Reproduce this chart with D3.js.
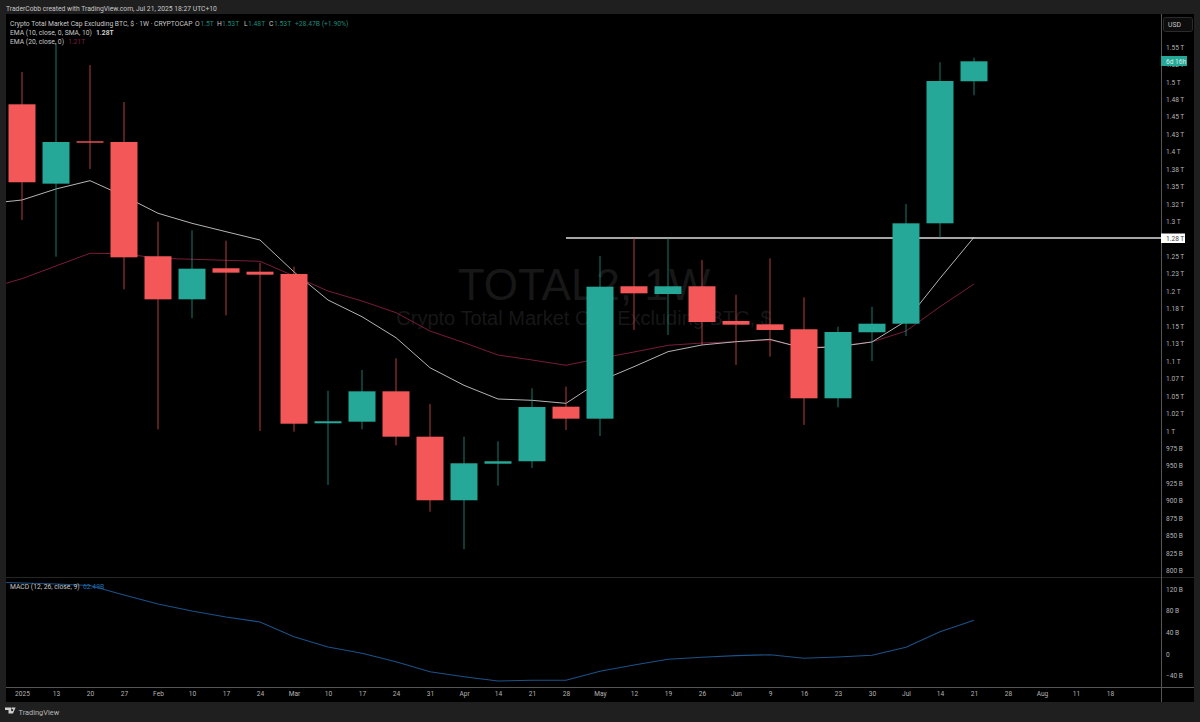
<!DOCTYPE html>
<html><head><meta charset="utf-8">
<script src="https://cdn.jsdelivr.net/npm/d3@7/dist/d3.min.js"></script>
<style>
html,body{margin:0;padding:0;background:#1f1f1f;overflow:hidden}
svg{display:block}
text{font-family:Roboto,"Open Sans",sans-serif}
.axis text{fill:#b4b4b4;font-size:6.6px}
</style></head><body><svg id="c" width="1200" height="722"></svg>
<script>
// Values in billions of USD, weekly candles
const openV  = [1467.9,1354.2,1414.9,1413.9,1250.2,1188.5,1233,1228.1,1224.8,1010.9,1013.2,1056.7,991.7,900.6,953,956.5,1034.7,1017.5,1207.2,1196.1,1207.2,1157.5,1152.7,1145.6,1046.7,1141.3,1153.6,1297.4,1500.9];
const highV  = [1514.2,1555.7,1524.2,1471.2,1299.7,1287.4,1272.5,1241,1235.3,1057.6,1087.3,1104,1038.5,991.7,985.1,1061,1063.3,1250.6,1276.4,1276.4,1244.9,1195.1,1247.3,1191.4,1149.3,1177.9,1325.1,1528.1,1534.7];
const lowV   = [1302.2,1249.6,1375.2,1202.9,1002.3,1161.3,1165.6,999.9,998.9,922.5,1002.3,979.4,884.2,830.4,921.5,946.9,1001.3,992.7,1144.6,1137.4,1123.1,1094.4,1106.3,1008.5,1033.8,1100.1,1136,1276.4,1480.8];
const closeV = [1356.2,1413.9,1412.9,1248.7,1188.5,1232.4,1226.7,1223.8,1010.3,1013.8,1056.7,991.7,900.6,953.6,956.5,1034.2,1017.5,1206.6,1197.1,1207.2,1156,1152.2,1144.6,1046.7,1141.7,1153.6,1297.4,1501.3,1529.5];
// Indicator series begin one week before the first visible candle
const ema10 = [1325.7,1330.8,1346.6,1358.5,1336.5,1311.8,1297.4,1285.4,1273.5,1227.7,1187.5,1163.6,1133.5,1090.5,1065.3,1045.7,1043.8,1039.5,1071.5,1092,1113.5,1123.1,1127.8,1131.2,1118.3,1120.6,1127.4,1157.5,1218.6,1277.4];
const ema20 = [1204,1218.1,1236.3,1254.5,1253.9,1247.3,1245.9,1244.4,1243,1221.9,1200.4,1186.1,1169.4,1143.1,1126.4,1108.7,1101.6,1094,1104,1113,1122.6,1125.9,1127.8,1130.2,1119.2,1121.6,1127.4,1143.1,1177.9,1210.5];
const macd  = [133.3,131.5,129.6,126.9,109.3,92.6,79.6,68.5,59.3,32,13,1.3,-14.3,-32.8,-42,-50,-48.7,-48.7,-32,-20.4,-9.8,-6.1,-3.1,-1.3,-8,-5.6,-2.4,12.4,41.3,62.49];
const timeLabels = ['2025','13','20','27','Feb','10','17','24','Mar','10','17','24','31','Apr','14','21','28','May','12','19','26','Jun','9','16','23','30','Jul','14','21','28','Aug','11','18'];
const priceTicks  = [800,825,850,875,900,925,950,975,1000,1025,1050,1075,1100,1125,1150,1175,1200,1225,1250,1300,1325,1350,1375,1400,1425,1450,1475,1500,1525,1550];
const priceLabels = ['800 B','825 B','850 B','875 B','900 B','925 B','950 B','975 B','1 T','1.02 T','1.05 T','1.07 T','1.1 T','1.13 T','1.15 T','1.18 T','1.2 T','1.23 T','1.25 T','1.3 T','1.32 T','1.35 T','1.38 T','1.4 T','1.43 T','1.45 T','1.48 T','1.5 T','1.52 T','1.55 T'];
const macdTicks  = [-40,0,40,80,120];
const macdLabels = ['−40 B','0','40 B','80 B','120 B'];
const levelValue = 1276.4, levelStartIndex = 16;

const UP='#25a898', DOWN='#f45757';
const svg=d3.select('#c');
const x=d3.scaleLinear().domain([0,28]).range([22,974]);
const y=d3.scaleLinear().domain([800,1550]).range([570.5,47]);
const ym=d3.scaleLinear().domain([0,40]).range([654,632.4]);

svg.append('rect').attr('width',1200).attr('height',722).attr('fill','#1f1f1f');
svg.append('rect').attr('x',6).attr('y',14).attr('width',1188).attr('height',688).attr('fill','#000');
const defs=svg.append('defs');
defs.append('clipPath').attr('id','main').append('rect').attr('x',6).attr('y',14).attr('width',1155).attr('height',563);
defs.append('clipPath').attr('id','sub').append('rect').attr('x',6).attr('y',578).attr('width',1155).attr('height',109);

// watermark
svg.append('text').attr('x',584).attr('y',300).attr('text-anchor','middle').attr('fill','#171717')
  .style('font-family','"Liberation Sans",sans-serif').style('font-size','44px').text('TOTAL2, 1W');
svg.append('text').attr('x',584).attr('y',325).attr('text-anchor','middle').attr('fill','#171717')
  .style('font-family','"Liberation Sans",sans-serif').style('font-size','20px').text('Crypto Total Market Cap Excluding BTC, $');

const main=svg.append('g').attr('clip-path','url(#main)');
const line=d3.line().x((d,i)=>x(i-1)).y(d=>y(d));
main.append('path').attr('d',line(ema20)).attr('fill','none').attr('stroke','#7a1c3a').attr('stroke-width',1);
main.append('path').attr('d',line(ema10)).attr('fill','none').attr('stroke','#b4b4b4').attr('stroke-width',1);
main.append('line').attr('x1',x(levelStartIndex)).attr('x2',1161).attr('y1',y(levelValue)).attr('y2',y(levelValue))
  .attr('stroke','#dedede').attr('stroke-width',1.6);

const idx=d3.range(closeV.length);
const col=i=>closeV[i]>=openV[i]?UP:DOWN;
main.selectAll('.wick').data(idx).join('line').attr('class','wick')
  .attr('x1',x).attr('x2',x).attr('y1',i=>y(highV[i])).attr('y2',i=>y(lowV[i]))
  .attr('stroke',col).attr('stroke-width',1).attr('stroke-opacity',.72);
main.selectAll('.body').data(idx).join('rect').attr('class','body')
  .attr('x',i=>x(i)-13.5).attr('width',27)
  .attr('y',i=>y(Math.max(openV[i],closeV[i])))
  .attr('height',i=>Math.abs(y(openV[i])-y(closeV[i])))
  .attr('fill',col);

svg.append('g').attr('clip-path','url(#sub)').append('path')
  .attr('d',d3.line().x((d,i)=>x(i-1)).y(d=>ym(d))(macd))
  .attr('fill','none').attr('stroke','#1b5288').attr('stroke-width',1.1);

// frame lines
svg.append('line').attr('x1',6).attr('x2',1194).attr('y1',577.5).attr('y2',577.5).attr('stroke','#262626');
svg.append('line').attr('x1',6).attr('x2',1194).attr('y1',687.5).attr('y2',687.5).attr('stroke','#555');
svg.append('line').attr('x1',1161.5).attr('x2',1161.5).attr('y1',14).attr('y2',702).attr('stroke','#555');

// axes
const ax=svg.append('g').attr('class','axis').attr('transform','translate(1161,0)')
  .call(d3.axisRight(y).tickValues(priceTicks).tickSize(0).tickPadding(5).tickFormat((d,i)=>priceLabels[i]));
ax.select('.domain').remove();
const axm=svg.append('g').attr('class','axis').attr('transform','translate(1161,0)')
  .call(d3.axisRight(ym).tickValues(macdTicks).tickSize(0).tickPadding(5).tickFormat((d,i)=>macdLabels[i]));
axm.select('.domain').remove();
const axt=svg.append('g').attr('class','axis').attr('transform','translate(0,689)')
  .call(d3.axisBottom(x).tickValues(d3.range(timeLabels.length)).tickSize(0).tickPadding(2).tickFormat(i=>timeLabels[i]));
axt.select('.domain').remove();

// USD button and tags
svg.append('rect').attr('x',1163.5).attr('y',17.5).attr('width',29).attr('height',14).attr('rx',2).attr('fill','#0d0d0d').attr('stroke','#2b2b2b');
svg.append('text').attr('x',1168).attr('y',27).attr('fill','#c4c4c4').style('font-size','6.8px').text('USD');
svg.append('rect').attr('x',1161).attr('y',56).attr('width',26).attr('height',10).attr('fill',UP);
svg.append('text').attr('x',1166).attr('y',63.6).attr('fill','#d8f0ec').style('font-size','6.6px').text('6d 16h');
svg.append('rect').attr('x',1161).attr('y',233.5).attr('width',24).attr('height',9.5).attr('fill','#fff');
svg.append('text').attr('x',1166).attr('y',240.8).attr('fill','#444').style('font-size','6.6px').text('1.28 T');

// header text
function t(xp,yp,s,c,w){return svg.append('text').attr('x',xp).attr('y',yp).attr('fill',c).style('font-size','6.75px').style('font-weight',w||400).text(s);}
t(6,10.5,'TraderCobb created with TradingView.com, Jul 21, 2025 18:27 UTC+10','#c8c8c8');
t(10,25.5,'Crypto Total Market Cap Excluding BTC, $ · 1W · CRYPTOCAP','#c8c8c8');
const val='#1e8a7a';
t(195,25.5,'O','#c8c8c8');t(200.5,25.5,'1.5T',val);
t(217,25.5,'H','#c8c8c8');t(222,25.5,'1.53T',val);
t(244,25.5,'L','#c8c8c8');t(248,25.5,'1.48T',val);
t(269,25.5,'C','#c8c8c8');t(274,25.5,'1.53T',val);
t(295,25.5,'+28.47B (+1.90%)',val);
t(10,34.7,'EMA (10, close, 0, SMA, 10)','#c8c8c8');t(96,34.7,'1.28T','#d8d8d8',600);
t(10,44,'EMA (20, close, 0)','#c8c8c8');t(68,44,'1.21T','#7d1c3c');
t(10,589,'MACD (12, 26, close, 9)','#c8c8c8');t(83,589,'62.49B','#1f6fb5');

// logo + brand
svg.append('path').attr('fill','#cfcfcf').attr('d','M5 707.5h6v6h-2.5v-3.5H5zM11.6 707.5h4l-2.6 6h-2.2z M12.2 709a1 1 0 1 0 .01 0z');
svg.append('text').attr('x',18.5).attr('y',715).attr('fill','#b8b8b8').style('font-size','7.4px').text('TradingView');
</script></body></html>
